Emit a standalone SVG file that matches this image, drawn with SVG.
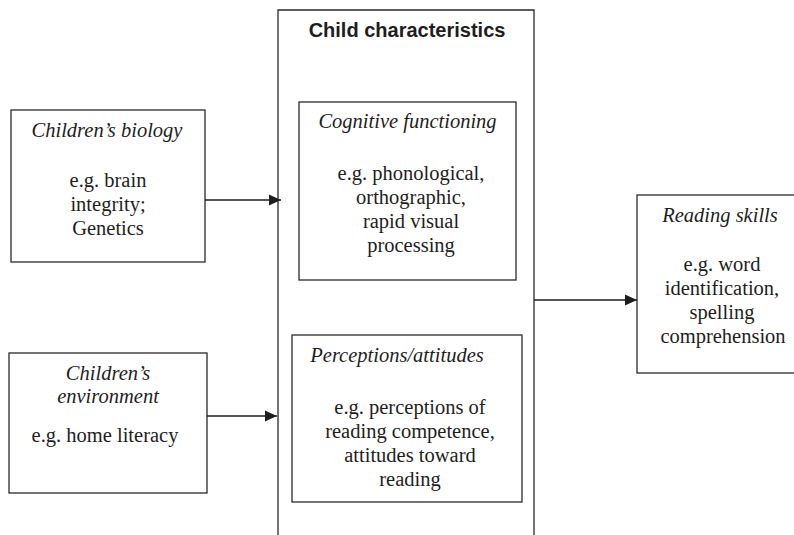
<svg xmlns="http://www.w3.org/2000/svg" width="794" height="535" viewBox="0 0 794 535">
  <style>
    .box { fill: #ffffff; stroke: #2a2a2a; stroke-width: 1.3; }
    .t { font-family: "Liberation Serif", "Times New Roman", serif; font-size: 20.5px; fill: #1e1e1e; text-anchor: middle; }
    .i { font-style: italic; }
    .h { font-family: "Liberation Sans", Arial, sans-serif; font-size: 20px; font-weight: bold; fill: #1e1e1e; text-anchor: middle; }
    .c { stroke: #1e1e1e; stroke-width: 1.3; fill: none; marker-end: url(#arr); }
  </style>
  <defs>
    <marker id="arr" viewBox="0 0 12 12" refX="12" refY="6" markerWidth="12" markerHeight="12" markerUnits="userSpaceOnUse" orient="auto">
      <path d="M0,0.5 L12,6 L0,11.5 z" fill="#1e1e1e"/>
    </marker>
  </defs>
  <rect width="794" height="535" fill="#ffffff"/>

  <g id="child-characteristics">
    <path d="M278,540 L278,10 L534,10 L534,540" fill="none" stroke="#2a2a2a" stroke-width="1.3"/>
    <text class="h" x="407" y="37">Child characteristics</text>
  </g>

  <g id="childrens-biology">
    <rect class="box" x="11" y="110" width="194" height="152"/>
    <text class="t i" x="107" y="137">Children’s biology</text>
    <text class="t" x="108" y="187">e.g. brain</text>
    <text class="t" x="108" y="211">integrity;</text>
    <text class="t" x="108" y="235">Genetics</text>
  </g>

  <g id="childrens-environment">
    <rect class="box" x="9" y="353" width="198" height="140"/>
    <text class="t i" x="108" y="380">Children’s</text>
    <text class="t i" x="108" y="403">environment</text>
    <text class="t" x="105" y="442">e.g. home literacy</text>
  </g>

  <g id="cognitive-functioning">
    <rect class="box" x="299" y="102" width="217" height="178"/>
    <text class="t i" x="407.5" y="128">Cognitive functioning</text>
    <text class="t" x="411" y="180">e.g. phonological,</text>
    <text class="t" x="411" y="204">orthographic,</text>
    <text class="t" x="411" y="228">rapid visual</text>
    <text class="t" x="411" y="252">processing</text>
  </g>

  <g id="perceptions-attitudes">
    <rect class="box" x="292" y="335" width="230" height="167"/>
    <text class="t i" x="397" y="362">Perceptions/attitudes</text>
    <text class="t" x="410" y="414">e.g. perceptions of</text>
    <text class="t" x="410" y="438">reading competence,</text>
    <text class="t" x="410" y="462">attitudes toward</text>
    <text class="t" x="410" y="486">reading</text>
  </g>

  <g id="reading-skills">
    <rect class="box" x="637" y="195" width="158" height="178"/>
    <text class="t i" x="720" y="222">Reading skills</text>
    <text class="t" x="722" y="271">e.g. word</text>
    <text class="t" x="722" y="295">identification,</text>
    <text class="t" x="722" y="319">spelling</text>
    <text class="t" x="723" y="343">comprehension</text>
  </g>

  <g id="connectors">
    <line class="c" x1="205" y1="200" x2="281" y2="200"/>
    <line class="c" x1="207" y1="416" x2="277" y2="416"/>
    <line class="c" x1="534" y1="300" x2="637" y2="300"/>
  </g>
</svg>
